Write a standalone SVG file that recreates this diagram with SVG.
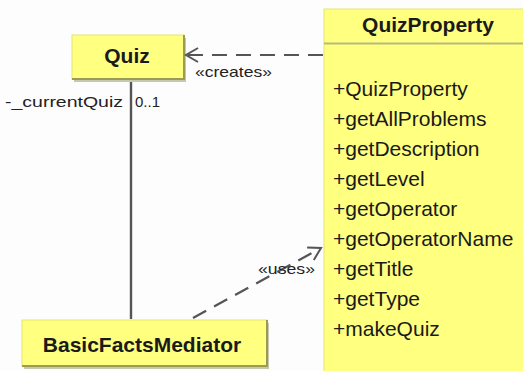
<svg xmlns="http://www.w3.org/2000/svg" width="523" height="371" viewBox="0 0 523 371">
  <style>
    .box { fill: #ffff80; stroke: #e6e670; stroke-width: 1; }
    .shadow { fill: #c8c8b0; }
    .edge { stroke: #9a9a55; stroke-width: 2; fill: none; }
    .title { font-family: "Liberation Sans", Arial, sans-serif; font-weight: bold; font-size: 21px; fill: #1a1a1a; }
    .member { font-family: "Liberation Sans", Arial, sans-serif; font-size: 21px; fill: #1a1a1a; }
    .label { font-family: "Liberation Sans", Arial, sans-serif; font-size: 15px; fill: #222; }
    .dep { stroke: #555; stroke-width: 2.2; fill: none; stroke-dasharray: 15 9; }
    .assoc { stroke: #555; stroke-width: 2.4; fill: none; }
  </style>
  <defs>
    <marker id="open-arrow" markerUnits="userSpaceOnUse" markerWidth="16" markerHeight="18" refX="13" refY="8" orient="auto">
      <path d="M1,1 L13,8 L1,15" fill="none" stroke="#555" stroke-width="2"/>
    </marker>
  </defs>

  <rect width="523" height="371" fill="#fdfdfd"/>

  <!-- QuizProperty class -->
  <g id="node-quizproperty">
    <rect x="324" y="9" width="205" height="370" class="box"/>
    <text x="428" y="32" text-anchor="middle" class="title" font-size="22">QuizProperty</text>
    <line x1="324" y1="43.5" x2="523" y2="43.5" stroke="#b8b880" stroke-width="2"/>
    <text x="333" y="96" class="member">+QuizProperty</text>
    <text x="333" y="126" class="member">+getAllProblems</text>
    <text x="333" y="156" class="member">+getDescription</text>
    <text x="333" y="186" class="member">+getLevel</text>
    <text x="333" y="216" class="member">+getOperator</text>
    <text x="333" y="246" class="member">+getOperatorName</text>
    <text x="333" y="276" class="member">+getTitle</text>
    <text x="333" y="306" class="member">+getType</text>
    <text x="333" y="336" class="member">+makeQuiz</text>
  </g>

  <!-- Quiz class -->
  <g id="node-quiz">
    <rect x="74" y="38" width="112" height="44" class="shadow"/>
    <rect x="72" y="35" width="112" height="44" class="box"/>
    <path d="M184,35 V79 H72" class="edge"/>
    <text x="127" y="63" text-anchor="middle" class="title">Quiz</text>
  </g>

  <!-- BasicFactsMediator class -->
  <g id="node-basicfactsmediator">
    <rect x="24" y="323" width="245" height="46" class="shadow"/>
    <rect x="22" y="320" width="245" height="46" class="box"/>
    <path d="M267,320 V366 H22" class="edge"/>
    <text x="142" y="352" text-anchor="middle" class="title">BasicFactsMediator</text>
  </g>

  <!-- Connectors -->
  <g id="connectors">
    <line x1="323" y1="55" x2="186" y2="55" class="dep" marker-end="url(#open-arrow)"/>
    <text x="195" y="77" class="label" textLength="77" lengthAdjust="spacingAndGlyphs">«creates»</text>

    <line x1="131" y1="82" x2="131" y2="319" class="assoc"/>
    <text x="5" y="107" class="label" font-size="16" textLength="118" lengthAdjust="spacingAndGlyphs">-_currentQuiz</text>
    <text x="135" y="107" class="label" font-size="16">0..1</text>

    <line x1="193" y1="318" x2="321" y2="248" class="dep" marker-end="url(#open-arrow)"/>
    <text x="258" y="274" class="label" textLength="57" lengthAdjust="spacingAndGlyphs">«uses»</text>
  </g>
</svg>
